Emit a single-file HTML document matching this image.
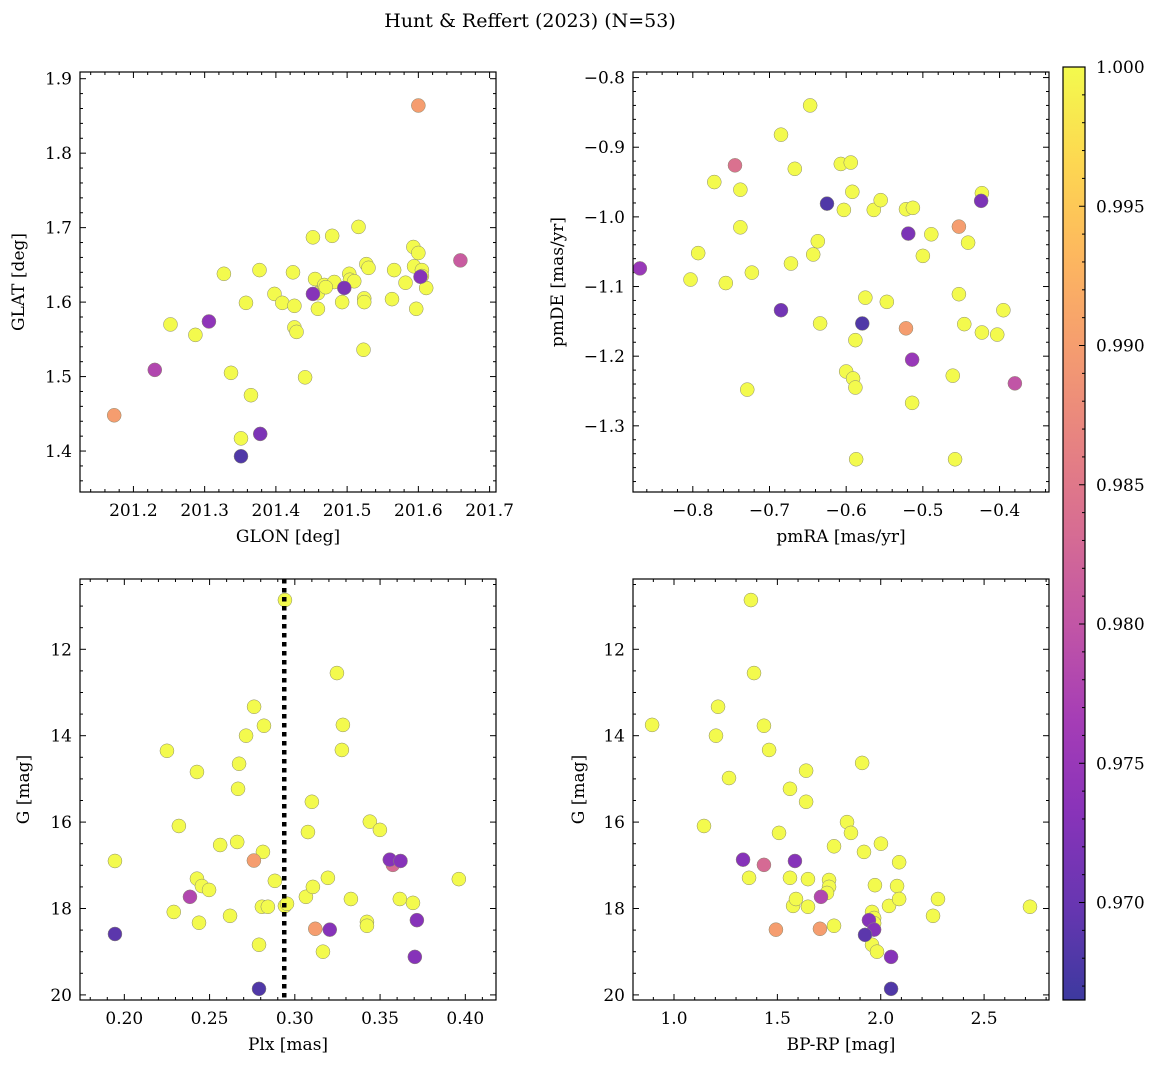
<!DOCTYPE html>
<html><head><meta charset="utf-8"><style>
body{margin:0;background:#fff}
svg{display:block;font-family:"DejaVu Serif","Liberation Serif",serif}
</style></head><body>
<svg id="fig" width="1161" height="1067" viewBox="0 0 1161 1067" xmlns="http://www.w3.org/2000/svg">
<text x="530" y="27" font-size="19" text-anchor="middle">Hunt &amp; Reffert (2023) (N=53)</text>
</svg>
<script>
// ---- Panel 1: GLON vs GLAT ----
const p1Glon=[201.600,201.659,201.173,201.230,201.306,201.351,201.378,201.452,201.496,201.603,201.252,201.287,201.327,201.337,201.358,201.377,201.365,201.351,201.398,201.409,201.424,201.426,201.426,201.429,201.441,201.452,201.455,201.459,201.459,201.468,201.479,201.482,201.493,201.503,201.504,201.516,201.524,201.527,201.524,201.530,201.523,201.563,201.566,201.582,201.593,201.597,201.600,201.594,201.605,201.611,201.605,201.470,201.510];
const p1Glat=[1.864,1.656,1.448,1.509,1.574,1.393,1.423,1.611,1.619,1.634,1.570,1.556,1.638,1.505,1.599,1.643,1.475,1.417,1.611,1.599,1.640,1.595,1.566,1.560,1.499,1.687,1.631,1.612,1.591,1.623,1.689,1.627,1.600,1.638,1.630,1.701,1.605,1.651,1.600,1.646,1.536,1.604,1.643,1.626,1.674,1.591,1.666,1.648,1.643,1.619,1.635,1.620,1.628];
const p1Prob=[0.990,0.981,0.990,0.978,0.974,0.968,0.972,0.973,0.972,0.973,1,1,1,1,1,1,1,1,1,1,1,1,1,1,1,1,1,1,1,1,1,1,1,1,1,1,1,1,1,1,1,1,1,1,1,1,1,1,1,1,1,1,1];
// ---- Panel 2: pmRA vs pmDE ----
const p2Pmra=[-0.869,-0.745,-0.625,-0.424,-0.519,-0.453,-0.685,-0.579,-0.522,-0.514,-0.380,-0.647,-0.685,-0.772,-0.738,-0.667,-0.607,-0.594,-0.592,-0.603,-0.564,-0.555,-0.522,-0.513,-0.489,-0.423,-0.441,-0.500,-0.637,-0.643,-0.672,-0.738,-0.793,-0.803,-0.757,-0.723,-0.575,-0.547,-0.588,-0.453,-0.446,-0.423,-0.403,-0.395,-0.634,-0.600,-0.591,-0.588,-0.729,-0.461,-0.514,-0.587,-0.458];
const p2Pmde=[-1.074,-0.926,-0.981,-0.977,-1.024,-1.014,-1.134,-1.153,-1.160,-1.205,-1.239,-0.840,-0.882,-0.950,-0.961,-0.931,-0.924,-0.922,-0.964,-0.990,-0.990,-0.976,-0.989,-0.987,-1.025,-0.966,-1.037,-1.056,-1.035,-1.054,-1.067,-1.015,-1.052,-1.090,-1.095,-1.080,-1.116,-1.122,-1.177,-1.111,-1.154,-1.166,-1.169,-1.134,-1.153,-1.222,-1.232,-1.245,-1.248,-1.228,-1.267,-1.348,-1.348];
const p2Prob=[0.975,0.984,0.968,0.972,0.972,0.990,0.971,0.968,0.990,0.975,0.980,1,1,1,1,1,1,1,1,1,1,1,1,1,1,1,1,1,1,1,1,1,1,1,1,1,1,1,1,1,1,1,1,1,1,1,1,1,1,1,1,1,1];
// ---- Panel 3: Plx vs G ----
const p3Plx=[0.1945,0.279,0.2385,0.276,0.312,0.3205,0.3557,0.362,0.3575,0.3716,0.3704,0.1945,0.225,0.232,0.229,0.2426,0.2426,0.2455,0.2438,0.2497,0.2562,0.2620,0.2662,0.2673,0.2667,0.2714,0.2761,0.2819,0.2813,0.2807,0.2842,0.2790,0.2883,0.2942,0.2954,0.2942,0.3065,0.3106,0.3077,0.3100,0.3165,0.3194,0.3247,0.3282,0.3276,0.3329,0.3440,0.3499,0.3423,0.3423,0.3616,0.3693,0.3962];
const p3G=[18.59,19.86,17.73,16.89,18.47,18.49,16.87,16.90,16.99,18.27,19.12,16.90,14.35,16.09,18.08,14.84,17.31,17.48,18.33,17.57,16.53,18.17,16.46,14.65,15.23,14.00,13.33,13.77,16.69,17.96,17.96,18.84,17.36,17.94,17.89,10.86,17.73,17.50,16.23,15.53,19.00,17.29,12.55,13.75,14.33,17.78,15.99,16.18,18.31,18.40,17.78,17.87,17.32];
const p3Prob=[0.969,0.968,0.978,0.990,0.990,0.973,0.973,0.973,0.983,0.973,0.973,1,1,1,1,1,1,1,1,1,1,1,1,1,1,1,1,1,1,1,1,1,1,1,1,1,1,1,1,1,1,1,1,1,1,1,1,1,1,1,1,1,1];
const plxRef=[0.2938];
// ---- Panel 4: BP-RP vs G ----
const p4Bprp=[2.050,2.050,1.334,1.435,1.585,1.493,1.711,1.706,1.924,1.943,1.968,0.894,1.372,1.387,1.213,1.203,1.266,1.145,1.363,1.435,1.460,1.508,1.561,1.639,1.639,1.561,1.576,1.590,1.648,1.648,1.750,1.750,1.740,1.774,1.774,1.837,1.856,1.910,1.919,1.972,1.958,1.968,1.968,1.958,1.982,2.001,2.040,2.079,2.089,2.089,2.277,2.253,2.722];
const p4G=[19.86,19.12,16.87,16.99,16.90,18.49,17.73,18.47,18.61,18.27,18.49,13.75,10.86,12.55,13.33,14.00,14.98,16.09,17.29,13.77,14.33,16.25,15.23,14.81,15.53,17.29,17.94,17.78,17.32,17.96,17.34,17.50,17.64,18.40,16.56,16.00,16.25,14.63,16.69,17.46,18.08,18.22,18.34,18.84,19.00,16.50,17.94,17.48,17.78,16.93,17.78,18.17,17.96];
const p4Prob=[0.968,0.973,0.973,0.983,0.973,0.990,0.978,0.990,0.969,0.973,0.973,1,1,1,1,1,1,1,1,1,1,1,1,1,1,1,1,1,1,1,1,1,1,1,1,1,1,1,1,1,1,1,1,1,1,1,1,1,1,1,1,1,1];
// ---- Colorbar ----
const cbTicks=[0.970,0.975,0.980,0.985,0.990,0.995,1.000];
const cbMin=0.9665, cbMax=1.0;

const NS="http://www.w3.org/2000/svg";
const svg=document.getElementById('fig');
function mk(tag,attrs,parent){const e=document.createElementNS(NS,tag);for(const k in attrs)e.setAttribute(k,attrs[k]);(parent||svg).appendChild(e);return e;}
const stops=["#0d0887","#41049d","#6a00a8","#8f0da4","#b12a90","#cc4778","#e16462","#f2844b","#fca636","#fcce25","#f0f921"];
function hex(h){return [1,3,5].map(i=>parseInt(h.substr(i,2),16));}
function plasma(t){t=Math.max(0,Math.min(1,t));const f=t*10,i=Math.min(9,Math.floor(f)),r=f-i;const a=hex(stops[i]),b=hex(stops[i+1]);
 return 'rgb('+a.map((v,k)=>Math.round((v+(b[k]-v)*r)*0.8+255*0.2)).join(',')+')';}
function col(p){return plasma((p-cbMin)/(cbMax-cbMin));}

function panel(cfg){
 const {L,T,R,B,xmin,xmax,ymin,ymax,name}=cfg;
 const g=mk('g',{});
 
 
 const sx=v=>L+(v-xmin)/(xmax-xmin)*(R-L);
 const sy=v=>B-(v-ymin)/(ymax-ymin)*(B-T);
 const tg=mk('g',{stroke:'#000','stroke-width':1},g);
 for(let v=Math.ceil(xmin/cfg.xminor-1e-6)*cfg.xminor;v<=xmax+1e-9;v+=cfg.xminor){
  const x=sx(v);const maj=Math.abs(v/cfg.xmajor-Math.round(v/cfg.xmajor))<1e-4;const len=maj?6:3;
  mk('line',{x1:x,x2:x,y1:B,y2:B-len},tg);mk('line',{x1:x,x2:x,y1:T,y2:T+len},tg);
  if(maj){const t=mk('text',{x:x,y:B+24,'font-size':17,'text-anchor':'middle',stroke:'none'},g);t.textContent=cfg.xfmt(v);
   }
 }
 for(let v=Math.ceil(Math.min(ymin,ymax)/cfg.yminor-1e-6)*cfg.yminor;v<=Math.max(ymin,ymax)+1e-9;v+=cfg.yminor){
  const y=sy(v);const maj=Math.abs(v/cfg.ymajor-Math.round(v/cfg.ymajor))<1e-4;const len=maj?6:3;
  mk('line',{x1:L,x2:L+len,y1:y,y2:y},tg);mk('line',{x1:R,x2:R-len,y1:y,y2:y},tg);
  if(maj){const t=mk('text',{x:L-8,y:y+6,'font-size':17,'text-anchor':'end',stroke:'none'},g);t.textContent=cfg.yfmt(v);
   }
 }
 const xl=mk('text',{x:(L+R)/2,y:B+50,'font-size':17,'text-anchor':'middle'},g);xl.textContent=cfg.xlabel;
 
 const yl=mk('text',{x:0,y:0,'font-size':17,'text-anchor':'middle',transform:`translate(${cfg.ylx},${(T+B)/2}) rotate(-90)`},g);yl.textContent=cfg.ylabel;
 
 const cid='c'+name;const cp=mk('clipPath',{id:cid},g);mk('rect',{x:L,y:T,width:R-L,height:B-T},cp);
 const pg=mk('g',{'clip-path':`url(#${cid})`},g);
 const idx=cfg.xs.map((_,i)=>i).sort((a,b)=>cfg.ps[b]-cfg.ps[a]);
 idx.forEach(i=>{const c=mk('circle',{cx:sx(cfg.xs[i]),cy:sy(cfg.ys[i]),r:7,fill:col(cfg.ps[i]),stroke:'#8a8a70','stroke-width':0.5},pg);
  });
 if(cfg.vline){cfg.vline.forEach(v=>{const ln=mk('line',{x1:sx(v),x2:sx(v),y1:T,y2:B,stroke:'#000','stroke-width':4.5,'stroke-dasharray':'4.5,4.5'},pg);
  });}
 const fr=mk('rect',{x:L,y:T,width:R-L,height:B-T,fill:'none',stroke:'#000','stroke-width':1.2},g);
 
}
const f1=v=>v.toFixed(1), f2=v=>v.toFixed(2), f0=v=>v.toFixed(0), fm=v=>(v<0?'\u2212':'')+Math.abs(v).toFixed(1);
panel({name:'panel-glon-glat',L:80,T:72,R:496,B:492,xmin:201.125,xmax:201.709,ymin:1.345,ymax:1.909,xmajor:0.1,xminor:0.02,ymajor:0.1,yminor:0.02,xfmt:f1,yfmt:f1,xs:p1Glon,ys:p1Glat,ps:p1Prob,xlabel:'GLON [deg]',ylabel:'GLAT [deg]',ylx:24});
panel({name:'panel-pm',L:633,T:72,R:1049,B:492,xmin:-0.878,xmax:-0.3355,ymin:-1.395,ymax:-0.792,xmajor:0.1,xminor:0.02,ymajor:0.1,yminor:0.02,xfmt:fm,yfmt:fm,xs:p2Pmra,ys:p2Pmde,ps:p2Prob,xlabel:'pmRA [mas/yr]',ylabel:'pmDE [mas/yr]',ylx:563});
panel({name:'panel-plx-g',L:80,T:579,R:496,B:1000,xmin:0.174,xmax:0.418,ymin:20.118,ymax:10.373,xmajor:0.05,xminor:0.01,ymajor:2,yminor:0.5,xfmt:f2,yfmt:f0,xs:p3Plx,ys:p3G,ps:p3Prob,xlabel:'Plx [mas]',ylabel:'G [mag]',ylx:29,vline:plxRef});
panel({name:'panel-cmd',L:633,T:579,R:1049,B:1000,xmin:0.8016,xmax:2.814,ymin:20.118,ymax:10.373,xmajor:0.5,xminor:0.1,ymajor:2,yminor:0.5,xfmt:f1,yfmt:f0,xs:p4Bprp,ys:p4G,ps:p4Prob,xlabel:'BP-RP [mag]',ylabel:'G [mag]',ylx:584});

const cb=mk('g',{});


const defs=mk('defs',{},cb);const lg=mk('linearGradient',{id:'cbg',x1:0,y1:1,x2:0,y2:0},defs);
for(let i=0;i<=20;i++){mk('stop',{offset:i/20,'stop-color':plasma(i/20)},lg);}
const CL=1063,CR=1085,CT=67,CB=1000;
mk('rect',{x:CL,y:CT,width:CR-CL,height:CB-CT,fill:'url(#cbg)',stroke:'#000','stroke-width':1.2},cb);
const cy=v=>CB-(v-cbMin)/(cbMax-cbMin)*(CB-CT);
for(let k=967;k<=1000;k++){const v=k/1000;const y=cy(v);const maj=k%5===0;mk('line',{x1:CR,x2:CR-(maj?6:3),y1:y,y2:y,stroke:'#000','stroke-width':1},cb);}
cbTicks.forEach(v=>{const t=mk('text',{x:1096,y:cy(v)+6,'font-size':17},cb);t.textContent=v.toFixed(3);
 });
</script>
</body></html>
